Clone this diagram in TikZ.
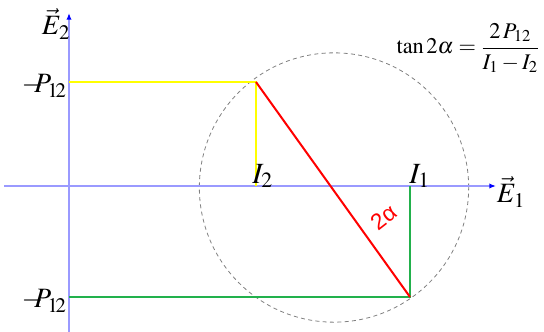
\documentclass[tikz,border=0pt]{standalone}
\usepackage{mathptmx}
\usepackage{fontspec}
\setmainfont{Liberation Serif}
\newfontfamily\sansf{Liberation Sans}
\usetikzlibrary{arrows.meta}
\definecolor{axisblue}{HTML}{9A9AFF}
\definecolor{myyellow}{HTML}{FFFF00}
\definecolor{mygreen}{HTML}{22B14C}
\definecolor{myred}{HTML}{FF0000}
\tikzset{
  axis/.style={axisblue, line width=1.5pt, -{Latex[length=5pt,width=4pt,color=blue]}},
  yline/.style={myyellow, line width=2.2pt},
  gline/.style={mygreen, line width=2.2pt},
  rline/.style={myred, line width=1.5pt},
  circ/.style={gray, line width=0.6pt, dash pattern=on 3pt off 2.5pt},
  lab/.style={inner sep=0pt, font=\fontsize{21}{23}\selectfont},
}
\begin{document}
\begin{tikzpicture}[x=0.75pt,y=-0.75pt]
\useasboundingbox (0,0) rectangle (544,332);
\coordinate (C) at (334,187.5);
\coordinate (Ybot) at (69,332);
\coordinate (Ytop) at (69,13);
\coordinate (Xl) at (4,186);
\coordinate (Xr) at (496,186);
\coordinate (A) at (256,82);
\coordinate (A0) at (69,82);
\coordinate (Ab) at (256,186);
\coordinate (B) at (410,297);
\coordinate (B0) at (69,297);
\coordinate (Bt) at (410,186);
\draw[circ] (C) circle[radius=101pt];
\draw[axis] (Ybot) -- (Ytop);
\draw[axis] (Xl) -- (Xr);
\draw[yline] (A0) -- (A) -- (Ab);
\draw[gline] (B0) -- (B) -- (Bt);
\draw[rline] (A) -- (B);
\node[lab] (e2) at (56,24) {$\vec{E}_2$};
\node[lab] (e1) at (511,192) {$\vec{E}_1$};
\node[lab, anchor=east] (p1) at (67,86) {$-\!\!\!P_{1\!2}$};
\node[lab, anchor=east] (p2) at (67,301) {$-\!\!\!P_{1\!2}$};
\node[lab, anchor=base west, font=\fontsize{22}{24}\selectfont] (i2) at (252,183) {$I_2$};
\node[lab, anchor=base west, font=\fontsize{22}{24}\selectfont] (i1) at (409,183) {$I_1$};
\node[inner sep=0pt, rotate=38, text=myred, font=\sansf\fontsize{17}{19}\selectfont] (al) at (384,217) {2α};
\node[inner sep=0pt, font=\fontsize{16.8}{19}\selectfont] (f) at (468,48) {$\displaystyle \tan 2\alpha = \frac{2\,P_{12}}{I_1 - I_2}$};
\end{tikzpicture}
\end{document}
